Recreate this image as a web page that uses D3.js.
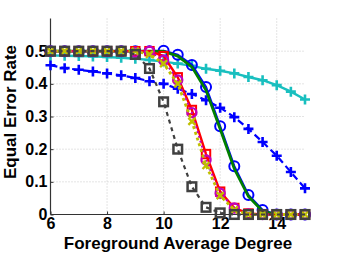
<!DOCTYPE html>
<html><head><meta charset="utf-8">
<script src="https://cdn.jsdelivr.net/npm/d3@7"></script>
<style>body{margin:0;background:#fff}svg{display:block}</style>
</head><body>
<svg id="c" width="338" height="254"></svg>
<script>
const xVals = [6,6.5,7,7.5,8,8.5,9,9.5,10,10.5,11,11.5,12,12.5,13,13.5,14,14.5,15];
const cyanPlus  = [0.487,0.486,0.485,0.484,0.482,0.480,0.477,0.473,0.468,0.462,0.455,0.446,0.440,0.432,0.421,0.411,0.396,0.376,0.352];
const blueDashPlus = [0.457,0.448,0.443,0.438,0.432,0.426,0.418,0.408,0.400,0.385,0.369,0.350,0.327,0.298,0.262,0.222,0.180,0.130,0.080];
const blueCircle = [0.5,0.5,0.5,0.5,0.5,0.5,0.5,0.5,0.501,0.489,0.458,0.390,0.270,0.148,0.060,0.014,0,0,0];
const greenLine  = [0.5,0.5,0.5,0.5,0.5,0.5,0.5,0.5,0.499,0.485,0.452,0.380,0.262,0.140,0.055,0.010,0,0,0];
const redSquare  = [0.5,0.5,0.5,0.5,0.5,0.5,0.5,0.5,0.485,0.420,0.320,0.185,0.070,0.020,0.003,0,0,0,0];
const magentaCircle = [0.5,0.5,0.5,0.5,0.5,0.5,0.497,0.5,0.472,0.412,0.312,0.167,0.065,0.020,0.002,0,0,0,0];
const yellowX    = [0.5,0.5,0.5,0.5,0.5,0.5,0.5,0.49,0.462,0.400,0.285,0.150,0.058,0.014,0,0,0,0,0];
const graySquare = [0.5,0.5,0.5,0.5,0.5,0.5,0.49,0.447,0.345,0.200,0.085,0.022,0.005,0,0,0,0,0,0];
const xTicks = [6,8,10,12,14];
const yTicks = [0,0.1,0.2,0.3,0.4,0.5];
const xLabel = "Foreground Average Degree";
const yLabel = "Equal Error Rate";

const svg = d3.select("#c");
const x = d3.scaleLinear().domain([6,15]).range([50.5,305]);
const y = d3.scaleLinear().domain([0,0.6]).range([214.5,18.5]);
const font = "'Liberation Sans', Arial, Helvetica, sans-serif";

// grid
const g = svg.append("g");
g.selectAll("line.vg").data(xTicks.slice(1)).join("line")
  .attr("x1",d=>x(d)).attr("x2",d=>x(d)).attr("y1",y(0)).attr("y2",y(0.6))
  .attr("stroke","#c8c8c8").attr("stroke-width",1).attr("stroke-dasharray","1,2");
g.selectAll("line.hg").data(yTicks.slice(1)).join("line")
  .attr("x1",x(6)).attr("x2",x(15)).attr("y1",d=>y(d)).attr("y2",d=>y(d))
  .attr("stroke","#c8c8c8").attr("stroke-width",1).attr("stroke-dasharray","1,2");

// axes
const xAxis = svg.append("g").attr("transform",`translate(0,${y(0)})`)
  .call(d3.axisBottom(x).tickValues(xTicks).tickSize(-3).tickPadding(6).tickSizeOuter(0));
const yAxis = svg.append("g").attr("transform",`translate(${x(6)},0)`)
  .call(d3.axisLeft(y).tickValues(yTicks).tickSize(-3).tickPadding(3).tickSizeOuter(0)
    .tickFormat(d=>d===0?"0":d3.format(".1f")(d)));
xAxis.select(".domain").attr("d",`M${x(6)},0H${x(15)}`);
yAxis.select(".domain").attr("d",`M0,${y(0)}V${y(0.6)}`);
[xAxis,yAxis].forEach(a=>{
  a.selectAll(".domain").attr("stroke","#333").attr("stroke-width",1.2);
  a.selectAll(".tick line").attr("stroke","#333");
  a.selectAll("text").attr("font-family",font).attr("font-size",16).attr("font-weight","bold").attr("fill","#000");
});
xAxis.selectAll("text").attr("dy","0.55em");

svg.append("text").attr("x",178).attr("y",248.5).attr("text-anchor","middle")
  .attr("font-family",font).attr("font-size",17).attr("font-weight","bold").text(xLabel);
svg.append("text").attr("transform","translate(16,112) rotate(-90)").attr("text-anchor","middle")
  .attr("font-family",font).attr("font-size",17).attr("font-weight","bold").text(yLabel);

function series(vals,color,opt){
  const data = xVals.map((v,i)=>[v,vals[i]]);
  const line = d3.line().x(d=>x(d[0])).y(d=>y(d[1]));
  const gg = svg.append("g");
  gg.append("path").attr("d",line(data)).attr("fill","none").attr("stroke",color)
    .attr("stroke-width",opt.lw||2).attr("stroke-dasharray",opt.dash||null);
  if(!opt.marker) return;
  const m = gg.selectAll("g.m").data(data).join("g")
    .attr("transform",d=>`translate(${x(d[0])},${y(d[1])})`);
  const s = opt.size;
  const sw = opt.mw||2;
  if(opt.marker==="circle"){
    m.append("circle").attr("r",s).attr("fill","none").attr("stroke",color).attr("stroke-width",sw);
  } else if(opt.marker==="square"){
    m.append("rect").attr("x",-s).attr("y",-s).attr("width",2*s).attr("height",2*s)
      .attr("fill","none").attr("stroke",color).attr("stroke-width",sw);
  } else if(opt.marker==="plus"){
    m.append("path").attr("d",`M${-s},0H${s}M0,${-s}V${s}`).attr("stroke",color).attr("stroke-width",sw);
  } else if(opt.marker==="x"){
    m.append("path").attr("d",`M${-s},${-s}L${s},${s}M${-s},${s}L${s},${-s}`).attr("stroke",color).attr("stroke-width",sw);
  }
}
series(blueDashPlus,"#0000ff",{marker:"plus",size:5,mw:2.6,dash:"7,4",lw:2.2});
series(cyanPlus,"#19bfbf",{marker:"plus",size:5,mw:2.6,lw:2.4});
series(blueCircle,"#0000ff",{marker:"circle",size:5,lw:2.2});
series(greenLine,"#007f00",{lw:2.8});
series(redSquare,"#ff0000",{marker:"square",size:4.2,lw:2.4});
series(magentaCircle,"#bf00bf",{marker:"circle",size:4.6,mw:2.2,dash:"2,3",lw:2});
series(yellowX,"#bfbf00",{marker:"x",size:3.5,mw:2.4,dash:"3,3",lw:2.8});
series(graySquare,"#404040",{marker:"square",size:4.3,mw:2.5,dash:"4,4",lw:2.2});
</script>
</body></html>
